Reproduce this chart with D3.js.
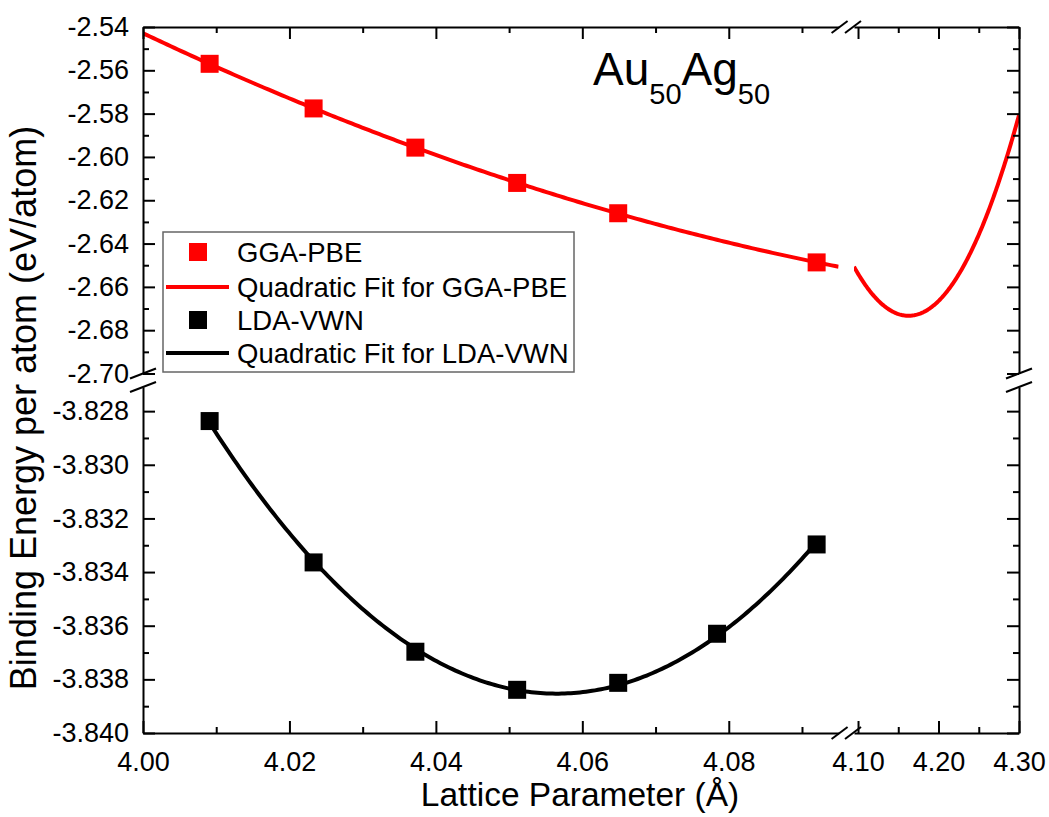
<!DOCTYPE html>
<html>
<head>
    <meta charset="utf-8">
    <title>AuAg binding energy</title>
    <script src="https://d3js.org/d3.v7.min.js"></script>
    <style>
        body { margin: 0; background: #fff; }
        text { font-family: "Liberation Sans", Arial, sans-serif; fill: #000; }
    </style>
</head>
<body>
    <svg width="1049" height="817"></svg>
    <script>
        // Lattice parameters (Å) and binding energies (eV/atom)
        var ggaLattice = [4.0091, 4.0233, 4.0372, 4.0511, 4.0649, 4.0920];
        var ggaEnergy  = [-2.5570, -2.5776, -2.5957, -2.6120, -2.6260, -2.6487];
        var ldaLattice = [4.0091, 4.0233, 4.0372, 4.0511, 4.0649, 4.0784, 4.0920];
        var ldaEnergy  = [-3.82837, -3.83364, -3.83697, -3.83839, -3.83813, -3.83630, -3.83297];

        // tick labels
        var xTicksLeft  = [4.00, 4.02, 4.04, 4.06, 4.08];
        var xTicksRight = [4.10, 4.20, 4.30];
        var yTicksUpper = [-2.54, -2.56, -2.58, -2.60, -2.62, -2.64, -2.66, -2.68, -2.70];
        var yTicksLower = [-3.828, -3.830, -3.832, -3.834, -3.836, -3.838, -3.840];

        var legendLabels = ["GGA-PBE", "Quadratic Fit for GGA-PBE", "LDA-VWN", "Quadratic Fit for LDA-VWN"];

        var svg = d3.select("svg");

        // plot frame, the axes are broken in both directions
        var plotLeft = 143, plotRight = 1019, plotTop = 27, plotBottom = 733;
        var xGapA = 838.6, xGapB = 854;
        var yGapA = 373.5, yGapB = 387;

        var xA = d3.scaleLinear().domain([4.00, 4.095]).range([plotLeft, xGapA]);
        var xB = d3.scaleLinear().domain([4.095, 4.30]).range([xGapB, plotRight]);
        var yUp = d3.scaleLinear().domain([-2.70, -2.54]).range([yGapA, plotTop]);
        var yLo = d3.scaleLinear().domain([-3.840, -3.8271]).range([plotBottom, yGapB]);

        // least squares quadratic fit, x centred for stability
        function quadFit(xs, ys) {
            var xm = d3.mean(xs);
            var s = [0, 0, 0, 0, 0], t = [0, 0, 0];
            xs.forEach(function(x, i) {
                var u = x - xm;
                for (var k = 0; k < 5; k++) s[k] += Math.pow(u, k);
                for (var k = 0; k < 3; k++) t[k] += ys[i] * Math.pow(u, k);
            });
            var M = [[s[0], s[1], s[2], t[0]], [s[1], s[2], s[3], t[1]], [s[2], s[3], s[4], t[2]]];
            for (var c = 0; c < 3; c++) {
                for (var r = c + 1; r < 3; r++) {
                    var f = M[r][c] / M[c][c];
                    for (var j = c; j < 4; j++) M[r][j] -= f * M[c][j];
                }
            }
            var b = [0, 0, 0];
            for (var r = 2; r >= 0; r--) {
                var v = M[r][3];
                for (var j = r + 1; j < 3; j++) v -= M[r][j] * b[j];
                b[r] = v / M[r][r];
            }
            return function(x) { var u = x - xm; return b[0] + b[1] * u + b[2] * u * u; };
        }

        var ggaFit = quadFit(ggaLattice, ggaEnergy);
        var ldaFit = quadFit(ldaLattice, ldaEnergy);

        // clip regions for each panel
        var defs = svg.append("defs");
        function clip(id, x0, x1, y0, y1) {
            defs.append("clipPath").attr("id", id).append("rect")
                .attr("x", x0).attr("y", y0).attr("width", x1 - x0).attr("height", y1 - y0);
        }
        clip("clipUA", plotLeft, xGapA, plotTop, yGapA);
        clip("clipUB", xGapB, plotRight, plotTop, yGapA);
        clip("clipLA", plotLeft, xGapA, yGapB, plotBottom);

        function fitPath(fn, x0, x1, xs, ys, clipId, color) {
            var pts = d3.range(0, 201).map(function(i) { return x0 + (x1 - x0) * i / 200; });
            var line = d3.line()
                .x(function(d) { return xs(d); })
                .y(function(d) { return ys(fn(d)); });
            svg.append("path").datum(pts)
                .attr("d", line)
                .attr("clip-path", "url(#" + clipId + ")")
                .attr("fill", "none")
                .attr("stroke", color)
                .attr("stroke-width", 4);
        }

        fitPath(ggaFit, 4.00, 4.095, xA, yUp, "clipUA", "#ff0000");
        fitPath(ggaFit, 4.095, 4.30, xB, yUp, "clipUB", "#ff0000");
        fitPath(ldaFit, d3.min(ldaLattice), d3.max(ldaLattice), xA, yLo, "clipLA", "#000000");

        var sq = 18;
        svg.append("g").selectAll("rect")
            .data(ggaLattice)
            .enter().append("rect")
            .attr("x", function(d) { return xA(d) - sq / 2; })
            .attr("y", function(d, i) { return yUp(ggaEnergy[i]) - sq / 2; })
            .attr("width", sq).attr("height", sq)
            .attr("fill", "#ff0000");

        svg.append("g").selectAll("rect")
            .data(ldaLattice)
            .enter().append("rect")
            .attr("x", function(d) { return xA(d) - sq / 2; })
            .attr("y", function(d, i) { return yLo(ldaEnergy[i]) - sq / 2; })
            .attr("width", sq).attr("height", sq)
            .attr("fill", "#000000");

        // axes
        var tickFont = 27;
        function minors(major) {
            var out = [];
            for (var i = 0; i < major.length - 1; i++) out.push((major[i] + major[i + 1]) / 2);
            return out;
        }

        function addAxis(axisFn, scale, values, minorValues, tx, ty, fmt, showLabels, pad) {
            var g = svg.append("g").attr("transform", "translate(" + tx + "," + ty + ")")
                .call(axisFn(scale).tickValues(values).tickSizeInner(-12).tickSizeOuter(0)
                    .tickPadding(pad).tickFormat(showLabels ? d3.format(fmt) : ""));
            g.selectAll("path.domain").attr("stroke-width", 2);
            g.selectAll(".tick line").attr("stroke-width", 2);
            g.selectAll("text").attr("font-size", tickFont)
                .attr("font-family", "Liberation Sans, Arial, sans-serif")
                .text(function() { return d3.select(this).text().replace("\u2212", "-"); });
            var m = svg.append("g").attr("transform", "translate(" + tx + "," + ty + ")")
                .call(axisFn(scale).tickValues(minorValues).tickSizeInner(-6).tickSizeOuter(0).tickFormat(""));
            m.select("path.domain").remove();
            m.selectAll(".tick line").attr("stroke-width", 2);
            return g;
        }

        var xMinA = minors(xTicksLeft).concat([4.09]);
        var xMinB = minors(xTicksRight);
        var yMinU = minors(yTicksUpper);
        var yMinL = minors(yTicksLower);

        addAxis(d3.axisBottom, xA, xTicksLeft, xMinA, 0, plotBottom, ".2f", true, 19);
        addAxis(d3.axisBottom, xB, xTicksRight, xMinB, 0, plotBottom, ".2f", true, 19);
        addAxis(d3.axisTop, xA, xTicksLeft, xMinA, 0, plotTop, ".2f", false, 9);
        addAxis(d3.axisTop, xB, xTicksRight, xMinB, 0, plotTop, ".2f", false, 9);
        addAxis(d3.axisLeft, yUp, yTicksUpper, yMinU, plotLeft, 0, ".2f", true, 14);
        addAxis(d3.axisLeft, yLo, yTicksLower, yMinL, plotLeft, 0, ".3f", true, 14);
        addAxis(d3.axisRight, yUp, yTicksUpper, yMinU, plotRight, 0, ".2f", false, 9);
        addAxis(d3.axisRight, yLo, yTicksLower, yMinL, plotRight, 0, ".3f", false, 9);

        // break marks
        function slash(cx, cy, dx, dy) {
            svg.append("line")
                .attr("x1", cx - dx).attr("y1", cy + dy)
                .attr("x2", cx + dx).attr("y2", cy - dy)
                .attr("stroke", "#000").attr("stroke-width", 2);
        }
        [plotTop, plotBottom].forEach(function(y) {
            slash(xGapA + 1, y, 8, 6);
            slash(xGapB - 1, y, 8, 6);
        });
        [plotLeft, plotRight].forEach(function(x) {
            slash(x, yGapA, 13, 5);
            slash(x, yGapB, 13, 5);
        });

        // legend
        var lg = svg.append("g");
        lg.append("rect")
            .attr("x", 163).attr("y", 232).attr("width", 411).attr("height", 140)
            .attr("fill", "#fff").attr("stroke", "#666").attr("stroke-width", 1.5);
        var rowY = [252, 287, 320, 353];
        var legendColors = ["#ff0000", "#ff0000", "#000000", "#000000"];
        legendLabels.forEach(function(label, i) {
            if (i % 2 === 0) {
                lg.append("rect").attr("x", 198 - 9).attr("y", rowY[i] - 9)
                    .attr("width", 18).attr("height", 18).attr("fill", legendColors[i]);
            } else {
                lg.append("line").attr("x1", 166).attr("x2", 229)
                    .attr("y1", rowY[i]).attr("y2", rowY[i])
                    .attr("stroke", legendColors[i]).attr("stroke-width", 4);
            }
            lg.append("text").attr("x", 237).attr("y", rowY[i]).attr("dy", "0.36em")
                .attr("font-size", 27.5).text(label);
        });

        // title with subscripts
        var title = svg.append("text").attr("x", 593).attr("y", 85).attr("font-size", 46);
        title.append("tspan").text("Au");
        title.append("tspan").attr("font-size", 29).attr("dy", 19).text("50");
        title.append("tspan").attr("dy", -19).text("Ag");
        title.append("tspan").attr("font-size", 29).attr("dy", 19).text("50");

        // axis titles
        svg.append("text")
            .attr("x", 580).attr("y", 806)
            .attr("text-anchor", "middle").attr("font-size", 33.5)
            .text("Lattice Parameter (\u00c5)");
        svg.append("text")
            .attr("transform", "translate(36,408) rotate(-90)")
            .attr("text-anchor", "middle").attr("font-size", 36)
            .text("Binding Energy per atom (eV/atom)");
    </script>
</body>
</html>
